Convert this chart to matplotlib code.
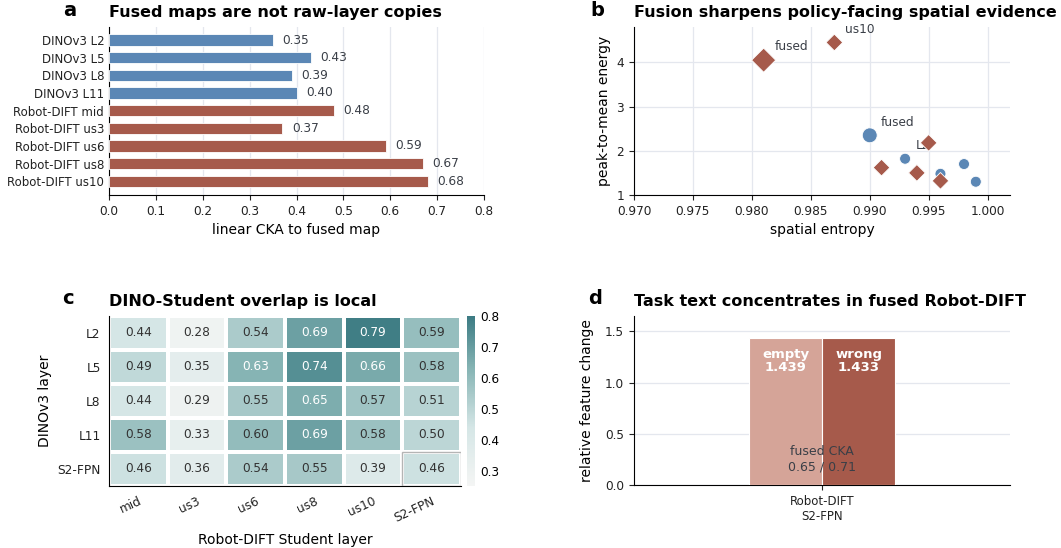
import numpy as np
import matplotlib
matplotlib.use("Agg")
import matplotlib.pyplot as plt
from matplotlib.colors import LinearSegmentedColormap
from matplotlib.patches import Rectangle

# panel a: linear CKA of each raw layer to the fused map
cka_labels = ["DINOv3 L2", "DINOv3 L5", "DINOv3 L8", "DINOv3 L11",
              "Robot-DIFT mid", "Robot-DIFT us3", "Robot-DIFT us6",
              "Robot-DIFT us8", "Robot-DIFT us10"]
cka_values = [0.35, 0.43, 0.39, 0.40, 0.48, 0.37, 0.59, 0.67, 0.68]
cka_family = ["dino"] * 4 + ["dift"] * 5

# panel b: spatial entropy vs peak-to-mean energy
dino_names = ["fused", "L2", "L5", "L8", "L11"]
dino_entropy = [0.990, 0.993, 0.996, 0.998, 0.999]
dino_peak = [2.35, 1.82, 1.48, 1.70, 1.30]
dift_names = ["fused", "us10", "us8", "us6", "us3", "mid"]
dift_entropy = [0.981, 0.987, 0.995, 0.991, 0.994, 0.996]
dift_peak = [4.05, 4.45, 2.18, 1.62, 1.50, 1.32]
labelled = {"fused", "us10", "L2"}

# panel c: DINO vs student layer overlap
heat_rows = ["L2", "L5", "L8", "L11", "S2-FPN"]
heat_cols = ["mid", "us3", "us6", "us8", "us10", "S2-FPN"]
heat_vals = np.array([
    [0.44, 0.28, 0.54, 0.69, 0.79, 0.59],
    [0.49, 0.35, 0.63, 0.74, 0.66, 0.58],
    [0.44, 0.29, 0.55, 0.65, 0.57, 0.51],
    [0.58, 0.33, 0.60, 0.69, 0.58, 0.50],
    [0.46, 0.36, 0.54, 0.55, 0.39, 0.46],
])

# panel d: task text perturbation
text_conds = ["empty", "wrong"]
text_change = [1.439, 1.433]
fused_cka = [0.65, 0.71]

BLUE = "#5b87b5"
RED = "#a65a4b"
LIGHT_RED = "#d5a498"
GRID = "#e4e7ee"
TXT = "#3a3f47"
TICK = 8.7
LAB = 10
TITLE = 11.5

plt.rcParams["font.family"] = "DejaVu Sans"

fig = plt.figure(figsize=(10.61, 5.48), dpi=100)
W, H = 1061, 548


def box(x0, x1, ytop, ybot):
    return [x0 / W, 1 - ybot / H, (x1 - x0) / W, (ybot - ytop) / H]


ax_a = fig.add_axes(box(109, 484, 27, 195))
ax_b = fig.add_axes(box(634, 1010, 27, 195))
ax_c = fig.add_axes(box(109, 461, 316, 486))
cax = fig.add_axes(box(467, 475, 316, 486))
ax_d = fig.add_axes(box(634, 1010, 316, 485))

for ax in (ax_a, ax_b, ax_c, ax_d):
    ax.spines["top"].set_visible(False)
    ax.spines["right"].set_visible(False)
    ax.tick_params(labelsize=TICK, colors="#222222")

# ---- a
ypos = np.arange(len(cka_labels))
colors = [BLUE if f == "dino" else RED for f in cka_family]
ax_a.barh(ypos, cka_values, height=0.64, color=colors, edgecolor="white",
          linewidth=0.6, zorder=3)
for y, v in zip(ypos, cka_values):
    ax_a.text(v + 0.02, y, f"{v:.2f}", va="center", ha="left", fontsize=TICK,
              color=TXT)
ax_a.set_yticks(ypos)
ax_a.set_yticklabels(cka_labels, fontsize=8.5)
ax_a.set_ylim(8.78, -0.74)
ax_a.set_xlim(0, 0.8)
ax_a.set_xticks(np.arange(0, 0.81, 0.1))
ax_a.tick_params(axis="y", length=0)
ax_a.grid(axis="x", color=GRID, linewidth=0.9, zorder=0)
ax_a.set_axisbelow(True)
ax_a.set_xlabel("linear CKA to fused map", fontsize=LAB)
ax_a.set_title("Fused maps are not raw-layer copies", loc="left",
               fontsize=TITLE, fontweight="bold", pad=7)

# ---- b
dsize = [115 if n == "fused" else 62 for n in dino_names]
rsize = [150 if n == "fused" else 72 for n in dift_names]
ax_b.scatter(dino_entropy, dino_peak, s=dsize, color=BLUE, marker="o",
             edgecolor="white", linewidth=0.6, zorder=4)
ax_b.scatter(dift_entropy, dift_peak, s=rsize, color=RED, marker="D",
             edgecolor="white", linewidth=0.6, zorder=4)
for names, xs, ys in ((dino_names, dino_entropy, dino_peak),
                      (dift_names, dift_entropy, dift_peak)):
    for n, x, y in zip(names, xs, ys):
        if n in labelled:
            ax_b.annotate(n, (x, y), xytext=(8, 7), textcoords="offset points",
                          fontsize=TICK, color=TXT, zorder=3)
ax_b.set_xlim(0.970, 1.0019)
ax_b.set_ylim(1, 4.8)
ax_b.set_xticks(np.arange(0.970, 1.0001, 0.005))
ax_b.set_xticklabels([f"{t:.3f}" for t in np.arange(0.970, 1.0001, 0.005)])
ax_b.set_yticks([1, 2, 3, 4])
ax_b.grid(color=GRID, linewidth=0.9, zorder=0)
ax_b.set_axisbelow(True)
ax_b.set_xlabel("spatial entropy", fontsize=LAB)
ax_b.set_ylabel("peak-to-mean energy", fontsize=LAB)
ax_b.set_title("Fusion sharpens policy-facing spatial evidence", loc="left",
               fontsize=TITLE, fontweight="bold", pad=7)

# ---- c
cmap = LinearSegmentedColormap.from_list(
    "teal", [(0.0, "#f4f5f4"), (0.345, "#d5e6e6"), (0.527, "#abcbcb"),
             (0.691, "#86b4b4"), (1.0, "#3c7b83")])
mesh = ax_c.pcolormesh(heat_vals, cmap=cmap, vmin=0.25, vmax=0.8,
                       edgecolors="white", linewidth=1.5)
ax_c.set_xlim(0, len(heat_cols))
ax_c.set_ylim(len(heat_rows), 0)
for i in range(len(heat_rows)):
    for j in range(len(heat_cols)):
        v = heat_vals[i, j]
        ax_c.text(j + 0.5, i + 0.5, f"{v:.2f}", ha="center", va="center",
                  fontsize=TICK, color="white" if v > 0.62 else "#333333")
ax_c.add_patch(Rectangle((5, 4), 1, 1, fill=False, edgecolor="#b5b5b5",
                         linewidth=1.0, zorder=3))
ax_c.set_xticks(np.arange(len(heat_cols)) + 0.5)
ax_c.set_xticklabels(heat_cols, rotation=25, ha="right",
                     rotation_mode="anchor")
ax_c.set_yticks(np.arange(len(heat_rows)) + 0.5)
ax_c.set_yticklabels(heat_rows)
ax_c.tick_params(length=0, pad=6)
ax_c.set_xlabel("Robot-DIFT Student layer", fontsize=LAB, labelpad=6)
ax_c.set_ylabel("DINOv3 layer", fontsize=LAB)
ax_c.set_title("DINO-Student overlap is local", loc="left",
               fontsize=TITLE, fontweight="bold", pad=7)
cb = fig.colorbar(mesh, cax=cax)
cb.outline.set_visible(False)
cb.set_ticks([0.3, 0.4, 0.5, 0.6, 0.7, 0.8])
cb.ax.tick_params(length=0, labelsize=TICK, pad=4)

# ---- d
bw = 0.35
offs = [-bw / 2, bw / 2]
bar_cols = [LIGHT_RED, RED]
for off, cond, val, c in zip(offs, text_conds, text_change, bar_cols):
    ax_d.bar(off, val, width=bw, color=c, edgecolor="white", linewidth=0.8,
             zorder=3)
    ax_d.text(off, val - 0.1, f"{cond}\n{val:.3f}", ha="center", va="top",
              fontsize=9.5, fontweight="bold", color="white", zorder=4,
              linespacing=1.0)
ax_d.text(0, 0.25, f"fused CKA\n{fused_cka[0]:.2f} / {fused_cka[1]:.2f}",
          ha="center", va="center", fontsize=9, color=TXT, zorder=4)
ax_d.set_xlim(-0.9, 0.9)
ax_d.set_ylim(0, 1.65)
ax_d.set_xticks([0])
ax_d.set_xticklabels(["Robot-DIFT\nS2-FPN"], fontsize=8.5)
ax_d.set_yticks([0, 0.5, 1.0, 1.5])
ax_d.grid(axis="y", color=GRID, linewidth=0.9, zorder=0)
ax_d.set_axisbelow(True)
ax_d.set_ylabel("relative feature change", fontsize=LAB, labelpad=8)
ax_d.set_title("Task text concentrates in fused Robot-DIFT", loc="left",
               fontsize=TITLE, fontweight="bold", pad=7)

# panel letters
for letter, x, y in (("a", 70, 11), ("b", 597, 11), ("c", 68, 299),
                     ("d", 595, 299)):
    fig.text(x / W, 1 - y / H, letter, fontsize=14, fontweight="bold",
             ha="center", va="center")

fig.savefig("out.png", dpi=100)
